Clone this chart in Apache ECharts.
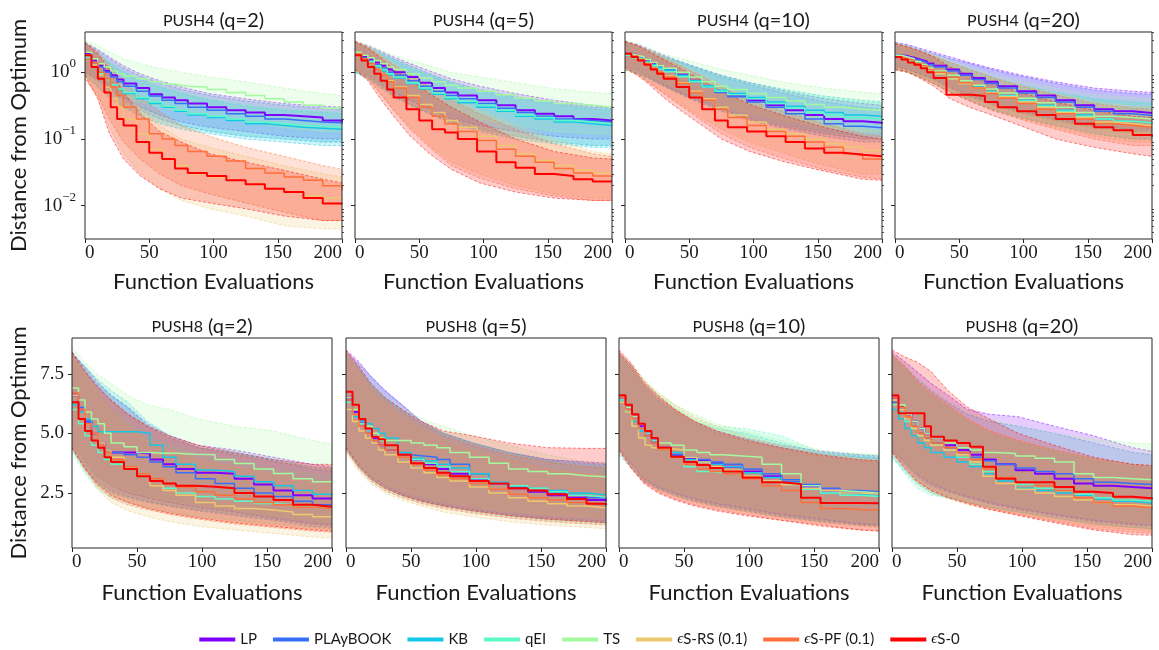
<!DOCTYPE html>
<html>
<head>
<meta charset="utf-8">
<script src="https://cdn.jsdelivr.net/npm/echarts@6/dist/echarts.min.js"></script>
<style>
  html, body { margin: 0; padding: 0; background: #fff; }
  #main { width: 1159px; height: 650px; }
</style>
</head>
<body>
<div id="main"></div>
<script>
// methods, in legend order
const methods = ['LP', 'PLAyBOOK', 'KB', 'qEI', 'TS', 'ϵS-RS (0.1)', 'ϵS-PF (0.1)', 'ϵS-0'];
const colors = ['#8000ff', '#376ff9', '#12c8e6', '#5bf9c7', '#a4f99f', '#edc86f', '#ff6f39', '#ff0000'];

// evaluations where the mean step curves are read (value holds until the next one)
const meanEvals = [0, 5, 10, 15, 20, 25, 30, 40, 50, 60, 70, 80, 95, 110, 125, 140, 155, 170, 185, 200];
// evaluations where the band edges are read
const bandEvals = [0, 10, 19, 30, 43, 58, 75, 97, 125, 155, 185, 200];

const xTicks = [0, 50, 100, 150, 200];
const logTicks = [0.01, 0.1, 1];
const logMinorTicks = [0.004, 0.005, 0.006, 0.007, 0.008, 0.009, 0.02, 0.03, 0.04, 0.05, 0.06, 0.07, 0.08, 0.09,
  0.2, 0.3, 0.4, 0.5, 0.6, 0.7, 0.8, 0.9, 2, 3, 4];
const linTicks = [2.5, 5.0, 7.5];

// ---- push4 (log scale) ----
const push4_q2_mean = [
  [1.9, 1.5, 1.25, 1.05, 0.9, 0.78, 0.68, 0.58, 0.47, 0.42, 0.38, 0.34, 0.3, 0.27, 0.25, 0.23, 0.22, 0.21, 0.19, 0.18],
  [1.8, 1.4, 1.2, 1.0, 0.85, 0.72, 0.62, 0.52, 0.44, 0.38, 0.34, 0.3, 0.27, 0.24, 0.22, 0.2, 0.19, 0.18, 0.175, 0.17],
  [1.8, 1.3, 1.0, 0.8, 0.65, 0.55, 0.48, 0.4, 0.34, 0.3, 0.26, 0.23, 0.21, 0.19, 0.17, 0.16, 0.15, 0.145, 0.14, 0.14],
  [1.7, 1.2, 0.95, 0.78, 0.65, 0.56, 0.5, 0.42, 0.36, 0.31, 0.27, 0.24, 0.22, 0.2, 0.18, 0.17, 0.16, 0.155, 0.15, 0.15],
  [2.0, 1.6, 1.35, 1.2, 1.05, 0.95, 0.88, 0.8, 0.72, 0.66, 0.62, 0.6, 0.55, 0.5, 0.45, 0.4, 0.36, 0.32, 0.29, 0.28],
  [1.8, 1.3, 0.9, 0.6, 0.4, 0.3, 0.2, 0.12, 0.07, 0.05, 0.04, 0.03, 0.027, 0.024, 0.021, 0.018, 0.016, 0.014, 0.013, 0.012],
  [1.8, 1.4, 1.0, 0.8, 0.6, 0.45, 0.3, 0.2, 0.12, 0.1, 0.08, 0.065, 0.055, 0.047, 0.036, 0.031, 0.027, 0.024, 0.02, 0.017],
  [1.8, 1.2, 0.8, 0.5, 0.3, 0.2, 0.16, 0.09, 0.062, 0.05, 0.036, 0.031, 0.028, 0.024, 0.021, 0.018, 0.016, 0.013, 0.0108, 0.0105]
];
const push4_q2_lo = [
  [1.0, 0.8, 0.6, 0.42, 0.3, 0.23, 0.18, 0.15, 0.13, 0.11, 0.1, 0.1],
  [1.0, 0.75, 0.55, 0.38, 0.27, 0.2, 0.16, 0.13, 0.11, 0.1, 0.09, 0.09],
  [0.9, 0.6, 0.42, 0.3, 0.22, 0.17, 0.14, 0.12, 0.1, 0.09, 0.08, 0.08],
  [0.9, 0.6, 0.45, 0.32, 0.24, 0.18, 0.15, 0.13, 0.11, 0.1, 0.09, 0.09],
  [1.0, 0.8, 0.6, 0.45, 0.36, 0.3, 0.26, 0.22, 0.18, 0.15, 0.13, 0.13],
  [0.8, 0.4, 0.15, 0.06, 0.03, 0.018, 0.012, 0.009, 0.007, 0.005, 0.0045, 0.0045],
  [0.8, 0.45, 0.2, 0.09, 0.05, 0.03, 0.02, 0.015, 0.011, 0.008, 0.006, 0.006],
  [0.9, 0.4, 0.12, 0.05, 0.028, 0.018, 0.013, 0.011, 0.009, 0.007, 0.006, 0.006]
];
const push4_q2_hi = [
  [2.8, 2.2, 1.7, 1.25, 0.95, 0.75, 0.6, 0.48, 0.4, 0.34, 0.31, 0.3],
  [2.8, 2.1, 1.6, 1.15, 0.88, 0.7, 0.55, 0.45, 0.37, 0.32, 0.29, 0.28],
  [2.7, 1.9, 1.4, 1.0, 0.78, 0.6, 0.48, 0.38, 0.31, 0.27, 0.25, 0.24],
  [2.7, 1.9, 1.4, 1.0, 0.78, 0.62, 0.5, 0.4, 0.33, 0.28, 0.26, 0.25],
  [3.0, 2.5, 2.0, 1.6, 1.35, 1.15, 1.0, 0.85, 0.72, 0.58, 0.48, 0.45],
  [2.8, 1.9, 1.1, 0.6, 0.3, 0.16, 0.1, 0.075, 0.055, 0.04, 0.03, 0.027],
  [2.8, 2.0, 1.3, 0.75, 0.42, 0.26, 0.16, 0.11, 0.075, 0.055, 0.04, 0.035],
  [2.8, 1.9, 1.1, 0.5, 0.24, 0.13, 0.09, 0.06, 0.045, 0.034, 0.025, 0.022]
];

const push4_q5_mean = [
  [1.9, 1.7, 1.55, 1.4, 1.25, 1.1, 1.0, 0.85, 0.7, 0.58, 0.5, 0.45, 0.38, 0.32, 0.27, 0.24, 0.22, 0.2, 0.19, 0.19],
  [1.8, 1.65, 1.5, 1.3, 1.15, 1.0, 0.9, 0.75, 0.62, 0.52, 0.45, 0.4, 0.34, 0.29, 0.25, 0.22, 0.2, 0.19, 0.18, 0.18],
  [1.8, 1.6, 1.4, 1.2, 1.05, 0.92, 0.82, 0.68, 0.56, 0.47, 0.4, 0.35, 0.3, 0.26, 0.22, 0.2, 0.18, 0.17, 0.16, 0.16],
  [1.8, 1.6, 1.45, 1.25, 1.1, 0.95, 0.85, 0.7, 0.58, 0.49, 0.42, 0.37, 0.32, 0.27, 0.23, 0.21, 0.19, 0.18, 0.17, 0.17],
  [2.0, 1.8, 1.65, 1.5, 1.35, 1.2, 1.1, 0.95, 0.82, 0.72, 0.64, 0.58, 0.52, 0.46, 0.41, 0.37, 0.34, 0.32, 0.3, 0.3],
  [1.9, 1.6, 1.35, 1.1, 0.9, 0.75, 0.6, 0.45, 0.33, 0.25, 0.19, 0.15, 0.11, 0.08, 0.06, 0.048, 0.04, 0.034, 0.031, 0.03],
  [1.9, 1.6, 1.35, 1.1, 0.9, 0.72, 0.58, 0.42, 0.3, 0.22, 0.17, 0.13, 0.095, 0.07, 0.055, 0.045, 0.036, 0.031, 0.028, 0.027],
  [1.8, 1.5, 1.2, 0.95, 0.75, 0.55, 0.42, 0.28, 0.19, 0.14, 0.125, 0.1, 0.065, 0.045, 0.037, 0.03, 0.028, 0.025, 0.023, 0.023]
];
const push4_q5_lo = [
  [1.1, 0.9, 0.7, 0.5, 0.38, 0.28, 0.2, 0.16, 0.13, 0.11, 0.1, 0.1],
  [1.0, 0.85, 0.65, 0.45, 0.33, 0.24, 0.18, 0.14, 0.11, 0.09, 0.08, 0.08],
  [1.0, 0.8, 0.6, 0.43, 0.32, 0.24, 0.17, 0.13, 0.1, 0.085, 0.075, 0.075],
  [1.0, 0.8, 0.62, 0.45, 0.33, 0.25, 0.18, 0.14, 0.11, 0.09, 0.08, 0.08],
  [1.1, 0.9, 0.72, 0.55, 0.42, 0.33, 0.26, 0.2, 0.16, 0.13, 0.12, 0.12],
  [1.1, 0.8, 0.5, 0.28, 0.15, 0.08, 0.045, 0.03, 0.02, 0.015, 0.013, 0.013],
  [1.1, 0.8, 0.5, 0.27, 0.14, 0.075, 0.04, 0.026, 0.018, 0.014, 0.012, 0.012],
  [1.1, 0.75, 0.42, 0.22, 0.11, 0.06, 0.035, 0.022, 0.016, 0.013, 0.012, 0.012]
];
const push4_q5_hi = [
  [2.9, 2.5, 2.1, 1.7, 1.35, 1.05, 0.8, 0.62, 0.48, 0.38, 0.32, 0.3],
  [2.8, 2.4, 2.0, 1.6, 1.25, 0.95, 0.72, 0.55, 0.43, 0.35, 0.3, 0.29],
  [2.8, 2.3, 1.9, 1.5, 1.15, 0.9, 0.68, 0.52, 0.41, 0.33, 0.28, 0.27],
  [2.8, 2.4, 2.0, 1.55, 1.2, 0.92, 0.7, 0.54, 0.42, 0.34, 0.29, 0.28],
  [3.0, 2.6, 2.2, 1.8, 1.5, 1.25, 1.0, 0.85, 0.7, 0.57, 0.5, 0.48],
  [2.9, 2.4, 1.9, 1.35, 0.95, 0.65, 0.42, 0.27, 0.16, 0.1, 0.065, 0.06],
  [2.9, 2.4, 1.8, 1.3, 0.9, 0.6, 0.38, 0.24, 0.14, 0.085, 0.06, 0.055],
  [2.9, 2.3, 1.7, 1.1, 0.75, 0.48, 0.3, 0.18, 0.1, 0.065, 0.052, 0.05]
];

const push4_q10_mean = [
  [1.9, 1.8, 1.65, 1.5, 1.35, 1.2, 1.1, 0.92, 0.75, 0.62, 0.52, 0.45, 0.38, 0.32, 0.27, 0.23, 0.2, 0.185, 0.175, 0.17],
  [1.8, 1.7, 1.6, 1.45, 1.3, 1.15, 1.05, 0.88, 0.72, 0.6, 0.5, 0.43, 0.36, 0.3, 0.24, 0.2, 0.17, 0.155, 0.148, 0.145],
  [1.8, 1.7, 1.6, 1.45, 1.3, 1.18, 1.08, 0.9, 0.75, 0.63, 0.54, 0.48, 0.42, 0.36, 0.31, 0.27, 0.25, 0.23, 0.22, 0.22],
  [1.8, 1.65, 1.55, 1.4, 1.25, 1.12, 1.02, 0.86, 0.72, 0.6, 0.52, 0.46, 0.4, 0.34, 0.29, 0.25, 0.23, 0.21, 0.2, 0.2],
  [1.9, 1.8, 1.7, 1.55, 1.4, 1.25, 1.15, 1.0, 0.85, 0.72, 0.62, 0.55, 0.48, 0.42, 0.37, 0.33, 0.3, 0.28, 0.27, 0.27],
  [1.9, 1.75, 1.55, 1.35, 1.15, 1.0, 0.88, 0.7, 0.52, 0.4, 0.3, 0.23, 0.18, 0.14, 0.12, 0.1, 0.085, 0.075, 0.067, 0.065],
  [1.9, 1.75, 1.55, 1.35, 1.15, 1.0, 0.85, 0.68, 0.5, 0.38, 0.28, 0.21, 0.16, 0.13, 0.11, 0.09, 0.075, 0.06, 0.05, 0.048],
  [1.9, 1.7, 1.5, 1.3, 1.1, 0.95, 0.8, 0.6, 0.42, 0.28, 0.19, 0.15, 0.13, 0.11, 0.09, 0.072, 0.062, 0.058, 0.055, 0.054]
];
const push4_q10_lo = [
  [1.2, 1.05, 0.85, 0.65, 0.5, 0.38, 0.28, 0.2, 0.15, 0.12, 0.1, 0.1],
  [1.1, 0.95, 0.8, 0.62, 0.47, 0.35, 0.26, 0.19, 0.14, 0.11, 0.09, 0.09],
  [1.1, 0.95, 0.8, 0.63, 0.48, 0.37, 0.28, 0.21, 0.16, 0.13, 0.11, 0.11],
  [1.1, 0.95, 0.8, 0.62, 0.47, 0.36, 0.27, 0.2, 0.15, 0.12, 0.1, 0.1],
  [1.2, 1.05, 0.88, 0.7, 0.54, 0.42, 0.32, 0.25, 0.19, 0.15, 0.13, 0.13],
  [1.1, 0.9, 0.7, 0.5, 0.33, 0.22, 0.14, 0.09, 0.06, 0.04, 0.03, 0.03],
  [1.1, 0.9, 0.7, 0.48, 0.32, 0.2, 0.12, 0.075, 0.05, 0.035, 0.027, 0.025],
  [1.2, 0.9, 0.65, 0.42, 0.27, 0.17, 0.1, 0.065, 0.045, 0.033, 0.025, 0.024]
];
const push4_q10_hi = [
  [2.9, 2.6, 2.2, 1.8, 1.45, 1.15, 0.9, 0.7, 0.52, 0.4, 0.34, 0.32],
  [2.9, 2.5, 2.1, 1.7, 1.4, 1.1, 0.85, 0.65, 0.48, 0.36, 0.3, 0.28],
  [2.8, 2.5, 2.1, 1.75, 1.45, 1.15, 0.9, 0.7, 0.55, 0.44, 0.38, 0.36],
  [2.8, 2.5, 2.1, 1.7, 1.4, 1.1, 0.88, 0.68, 0.52, 0.42, 0.36, 0.35],
  [3.0, 2.7, 2.3, 1.9, 1.6, 1.35, 1.1, 0.9, 0.7, 0.58, 0.5, 0.48],
  [2.9, 2.5, 2.1, 1.7, 1.3, 0.95, 0.65, 0.42, 0.28, 0.19, 0.14, 0.13],
  [2.9, 2.5, 2.1, 1.65, 1.25, 0.9, 0.6, 0.38, 0.25, 0.17, 0.12, 0.11],
  [2.9, 2.5, 2.0, 1.55, 1.15, 0.8, 0.52, 0.33, 0.22, 0.15, 0.11, 0.1]
];

const push4_q20_mean = [
  [1.8, 1.75, 1.65, 1.55, 1.45, 1.35, 1.25, 1.1, 0.95, 0.82, 0.72, 0.62, 0.52, 0.45, 0.38, 0.32, 0.28, 0.26, 0.245, 0.24],
  [1.8, 1.7, 1.6, 1.5, 1.4, 1.3, 1.2, 1.05, 0.9, 0.78, 0.68, 0.58, 0.49, 0.42, 0.36, 0.3, 0.26, 0.24, 0.225, 0.22],
  [1.7, 1.6, 1.5, 1.4, 1.25, 1.1, 1.0, 0.85, 0.7, 0.6, 0.52, 0.45, 0.38, 0.32, 0.27, 0.23, 0.2, 0.185, 0.175, 0.17],
  [1.7, 1.6, 1.45, 1.35, 1.2, 1.05, 0.95, 0.8, 0.68, 0.58, 0.5, 0.44, 0.37, 0.31, 0.26, 0.22, 0.2, 0.185, 0.175, 0.17],
  [1.8, 1.7, 1.6, 1.45, 1.3, 1.15, 1.05, 0.9, 0.75, 0.64, 0.56, 0.49, 0.41, 0.35, 0.3, 0.25, 0.22, 0.21, 0.2, 0.2],
  [1.7, 1.6, 1.5, 1.35, 1.2, 1.05, 0.95, 0.8, 0.68, 0.58, 0.5, 0.43, 0.36, 0.3, 0.25, 0.21, 0.18, 0.17, 0.16, 0.16],
  [1.7, 1.6, 1.5, 1.35, 1.25, 1.1, 1.0, 0.85, 0.7, 0.58, 0.48, 0.41, 0.34, 0.28, 0.24, 0.2, 0.17, 0.16, 0.15, 0.15],
  [1.7, 1.55, 1.4, 1.3, 1.15, 1.0, 0.82, 0.46, 0.46, 0.44, 0.36, 0.3, 0.26, 0.23, 0.2, 0.17, 0.15, 0.135, 0.115, 0.108]
];
const push4_q20_lo = [
  [1.2, 1.1, 0.95, 0.8, 0.6, 0.45, 0.35, 0.27, 0.2, 0.16, 0.14, 0.14],
  [1.2, 1.1, 0.95, 0.78, 0.58, 0.43, 0.33, 0.25, 0.19, 0.15, 0.13, 0.13],
  [1.1, 1.0, 0.85, 0.68, 0.5, 0.38, 0.28, 0.21, 0.16, 0.12, 0.1, 0.1],
  [1.1, 1.0, 0.85, 0.68, 0.5, 0.38, 0.28, 0.21, 0.16, 0.12, 0.1, 0.1],
  [1.2, 1.05, 0.9, 0.72, 0.55, 0.42, 0.32, 0.24, 0.18, 0.14, 0.12, 0.12],
  [1.1, 1.0, 0.85, 0.68, 0.5, 0.38, 0.28, 0.21, 0.15, 0.11, 0.09, 0.09],
  [1.1, 1.0, 0.85, 0.68, 0.5, 0.37, 0.27, 0.2, 0.14, 0.1, 0.08, 0.08],
  [1.1, 1.0, 0.82, 0.62, 0.4, 0.3, 0.23, 0.16, 0.1, 0.075, 0.06, 0.055]
];
const push4_q20_hi = [
  [2.8, 2.6, 2.3, 2.0, 1.7, 1.4, 1.15, 0.92, 0.72, 0.58, 0.52, 0.5],
  [2.8, 2.5, 2.2, 1.9, 1.6, 1.35, 1.1, 0.88, 0.68, 0.54, 0.48, 0.47],
  [2.7, 2.4, 2.1, 1.75, 1.4, 1.1, 0.85, 0.65, 0.5, 0.4, 0.36, 0.35],
  [2.7, 2.4, 2.1, 1.75, 1.4, 1.1, 0.85, 0.65, 0.5, 0.4, 0.36, 0.35],
  [2.8, 2.5, 2.2, 1.85, 1.5, 1.2, 0.95, 0.75, 0.58, 0.46, 0.42, 0.41],
  [2.7, 2.4, 2.1, 1.75, 1.4, 1.1, 0.85, 0.65, 0.48, 0.36, 0.31, 0.3],
  [2.7, 2.4, 2.1, 1.75, 1.4, 1.1, 0.84, 0.63, 0.46, 0.34, 0.29, 0.28],
  [2.7, 2.4, 2.1, 1.7, 1.2, 0.9, 0.7, 0.5, 0.36, 0.27, 0.22, 0.21]
];

// ---- push8 (linear scale) ----
const push8_q2_mean = [
  [6.6, 6.0, 5.5, 5.0, 4.6, 4.3, 4.2, 4.2, 4.15, 3.9, 3.7, 3.5, 3.35, 3.3, 3.1, 2.85, 2.6, 2.4, 2.27, 2.27],
  [6.7, 6.1, 5.5, 5.0, 4.6, 4.3, 4.2, 4.1, 4.0, 3.8, 3.6, 3.35, 3.1, 2.9, 2.7, 2.5, 2.35, 2.15, 2.0, 2.0],
  [6.2, 5.9, 5.6, 5.3, 5.07, 5.07, 5.07, 5.07, 5.0, 4.5, 4.0, 3.7, 3.46, 3.4, 3.2, 2.97, 2.8, 2.6, 2.45, 2.4],
  [6.0, 5.4, 4.9, 4.5, 4.2, 3.9, 3.7, 3.55, 3.3, 3.0, 2.7, 2.5, 2.35, 2.25, 2.15, 2.06, 2.0, 1.9, 1.85, 1.85],
  [6.9, 6.4, 5.9, 5.6, 5.4, 5.0, 4.6, 4.44, 4.2, 4.16, 4.16, 4.12, 4.1, 3.9, 3.74, 3.5, 3.32, 3.1, 2.97, 2.97],
  [6.6, 6.0, 5.4, 5.0, 4.6, 4.3, 4.0, 3.6, 3.2, 2.8, 2.6, 2.4, 2.1, 1.95, 1.85, 1.78, 1.7, 1.6, 1.5, 1.5],
  [6.7, 6.0, 5.4, 5.0, 4.5, 4.2, 3.9, 3.6, 3.3, 3.1, 2.9, 2.75, 2.55, 2.4, 2.25, 2.1, 2.0, 1.9, 1.85, 1.85],
  [6.3, 5.6, 5.1, 4.7, 4.4, 4.0, 3.8, 3.5, 3.2, 3.0, 2.9, 2.8, 2.76, 2.7, 2.5, 2.35, 2.2, 2.0, 1.92, 1.9]
];
const push8_q2_lo = [
  [4.5, 3.8, 3.2, 2.8, 2.5, 2.3, 2.1, 1.9, 1.7, 1.45, 1.2, 1.15],
  [4.4, 3.6, 3.0, 2.6, 2.35, 2.15, 1.95, 1.75, 1.55, 1.35, 1.1, 1.05],
  [4.3, 3.5, 2.9, 2.5, 2.3, 2.1, 1.95, 1.8, 1.6, 1.4, 1.2, 1.15],
  [4.2, 3.3, 2.7, 2.3, 2.1, 1.9, 1.7, 1.5, 1.35, 1.2, 1.05, 1.0],
  [4.5, 3.8, 3.2, 2.8, 2.55, 2.35, 2.15, 1.95, 1.75, 1.55, 1.35, 1.3],
  [4.3, 3.4, 2.7, 2.1, 1.75, 1.5, 1.3, 1.1, 0.95, 0.8, 0.65, 0.6],
  [4.4, 3.5, 2.8, 2.3, 2.0, 1.8, 1.6, 1.4, 1.2, 1.05, 0.9, 0.85],
  [4.4, 3.5, 2.9, 2.4, 2.1, 1.85, 1.65, 1.45, 1.25, 1.1, 0.95, 0.9]
];
const push8_q2_hi = [
  [8.4, 7.8, 7.2, 6.6, 6.1, 5.4, 4.9, 4.5, 4.3, 4.0, 3.7, 3.6],
  [8.4, 7.7, 7.1, 6.6, 6.1, 5.3, 4.8, 4.4, 4.15, 3.85, 3.5, 3.4],
  [8.3, 7.8, 7.3, 6.8, 6.3, 5.5, 4.9, 4.4, 4.2, 3.9, 3.6, 3.5],
  [8.2, 7.5, 6.8, 6.0, 5.5, 4.9, 4.5, 4.1, 3.8, 3.5, 3.3, 3.2],
  [8.6, 8.0, 7.5, 7.1, 6.6, 6.2, 6.0, 5.6, 5.3, 5.1, 4.7, 4.55],
  [8.3, 7.5, 6.8, 6.0, 5.3, 4.7, 4.3, 3.9, 3.6, 3.3, 3.0, 2.9],
  [8.4, 7.6, 7.0, 6.4, 5.8, 5.3, 4.8, 4.4, 4.1, 3.8, 3.6, 3.55],
  [8.4, 7.6, 7.0, 6.4, 5.8, 5.3, 4.9, 4.5, 4.2, 3.9, 3.7, 3.7]
];

const push8_q5_mean = [
  [6.5, 5.9, 5.5, 5.1, 4.8, 4.5, 4.3, 4.1, 3.9, 3.7, 3.5, 3.3, 3.05, 2.9, 2.7, 2.55, 2.4, 2.3, 2.2, 2.15],
  [6.4, 5.8, 5.3, 5.0, 4.7, 4.5, 4.3, 4.1, 4.05, 4.0, 3.9, 3.7, 3.3, 2.9, 2.75, 2.6, 2.5, 2.4, 2.3, 2.26],
  [6.3, 5.7, 5.5, 5.4, 5.2, 5.0, 4.8, 4.2, 3.95, 3.85, 3.7, 3.55, 3.3, 2.95, 2.8, 2.7, 2.6, 2.5, 2.42, 2.4],
  [6.3, 5.8, 5.4, 5.1, 4.9, 4.7, 4.5, 4.1, 3.9, 3.75, 3.6, 3.4, 3.1, 2.9, 2.8, 2.7, 2.55, 2.4, 2.32, 2.3],
  [6.5, 6.0, 5.6, 5.3, 5.0, 4.8, 4.7, 4.7, 4.6, 4.5, 4.4, 4.2, 4.0, 3.75, 3.5, 3.4, 3.3, 3.22, 3.18, 3.18],
  [6.0, 5.5, 5.1, 4.8, 4.6, 4.3, 4.1, 3.8, 3.55, 3.35, 3.15, 3.0, 2.75, 2.5, 2.3, 2.15, 2.05, 1.95, 1.87, 1.85],
  [6.4, 5.8, 5.3, 5.0, 4.7, 4.5, 4.3, 4.0, 3.7, 3.45, 3.25, 3.1, 2.9, 2.65, 2.45, 2.3, 2.2, 2.1, 2.02, 2.0],
  [6.75, 6.2, 5.6, 5.2, 4.86, 4.75, 4.5, 4.1, 3.75, 3.55, 3.35, 3.2, 3.0, 2.9, 2.7, 2.6, 2.45, 2.25, 2.05, 1.98]
];
const push8_q5_lo = [
  [4.4, 3.7, 3.2, 2.8, 2.45, 2.2, 2.0, 1.8, 1.6, 1.45, 1.35, 1.3],
  [4.3, 3.6, 3.1, 2.7, 2.4, 2.15, 1.95, 1.75, 1.55, 1.4, 1.3, 1.25],
  [4.4, 3.6, 3.1, 2.75, 2.45, 2.2, 2.0, 1.8, 1.6, 1.45, 1.35, 1.3],
  [4.3, 3.5, 3.0, 2.6, 2.35, 2.1, 1.9, 1.7, 1.5, 1.35, 1.25, 1.2],
  [4.5, 3.8, 3.3, 2.9, 2.6, 2.35, 2.15, 1.95, 1.75, 1.6, 1.5, 1.45],
  [4.2, 3.4, 2.9, 2.5, 2.2, 1.95, 1.7, 1.5, 1.3, 1.15, 1.05, 1.0],
  [4.3, 3.5, 3.0, 2.6, 2.3, 2.05, 1.85, 1.65, 1.45, 1.3, 1.2, 1.15],
  [4.4, 3.6, 3.1, 2.7, 2.4, 2.15, 1.95, 1.75, 1.55, 1.4, 1.3, 1.25]
];
const push8_q5_hi = [
  [8.5, 8.0, 7.4, 6.8, 6.2, 5.5, 5.0, 4.6, 4.2, 3.9, 3.8, 3.75],
  [8.4, 7.9, 7.4, 6.8, 6.2, 5.5, 5.0, 4.6, 4.2, 3.9, 3.75, 3.7],
  [8.3, 7.7, 7.1, 6.5, 6.0, 5.4, 5.0, 4.6, 4.2, 3.85, 3.7, 3.65],
  [8.3, 7.6, 7.0, 6.4, 5.9, 5.4, 5.0, 4.6, 4.2, 3.8, 3.6, 3.55],
  [8.4, 7.8, 7.2, 6.6, 6.1, 5.6, 5.3, 4.9, 4.5, 4.1, 3.8, 3.75],
  [8.2, 7.5, 6.8, 6.2, 5.7, 5.2, 4.7, 4.3, 3.9, 3.5, 3.3, 3.25],
  [8.4, 7.7, 7.0, 6.4, 5.9, 5.4, 4.9, 4.5, 4.1, 3.8, 3.6, 3.55],
  [8.5, 7.8, 7.1, 6.5, 6.0, 5.5, 5.1, 4.9, 4.6, 4.4, 4.37, 4.37]
];

const push8_q10_mean = [
  [6.5, 6.1, 5.7, 5.3, 5.0, 4.7, 4.4, 4.1, 3.95, 3.85, 3.75, 3.6, 3.4, 3.2, 2.95, 2.75, 2.6, 2.5, 2.45, 2.45],
  [6.4, 6.0, 5.6, 5.2, 4.9, 4.6, 4.3, 4.1, 4.0, 3.9, 3.8, 3.7, 3.5, 3.3, 3.05, 2.85, 2.7, 2.6, 2.55, 2.55],
  [6.3, 5.9, 5.5, 5.1, 4.9, 4.7, 4.4, 4.2, 3.9, 3.8, 3.7, 3.6, 3.35, 3.15, 2.95, 2.7, 2.5, 2.45, 2.4, 2.4],
  [6.4, 6.0, 5.6, 5.2, 5.0, 4.7, 4.3, 4.0, 3.6, 3.4, 3.35, 3.3, 3.2, 3.0, 2.85, 2.65, 2.5, 2.4, 2.35, 2.35],
  [6.5, 6.1, 5.7, 5.4, 5.1, 4.8, 4.6, 4.5, 4.3, 4.2, 4.1, 4.05, 4.0, 3.7, 3.3, 2.8, 2.6, 2.55, 2.5, 2.5],
  [6.3, 5.9, 5.3, 4.8, 4.5, 4.4, 4.35, 4.3, 4.0, 3.8, 3.6, 3.45, 3.2, 3.0, 2.85, 2.7, 2.6, 2.5, 2.45, 2.45],
  [6.5, 6.0, 5.6, 5.2, 4.9, 4.6, 4.3, 4.0, 3.7, 3.5, 3.4, 3.3, 3.1, 2.8, 2.6, 2.1, 1.85, 1.8, 1.78, 1.78],
  [6.6, 6.2, 5.8, 5.4, 5.1, 4.8, 4.4, 4.02, 3.8, 3.67, 3.55, 3.4, 3.15, 2.95, 2.88, 2.3, 2.08, 2.08, 2.07, 2.06]
];
const push8_q10_lo = [
  [4.4, 3.7, 3.1, 2.75, 2.5, 2.25, 2.05, 1.85, 1.6, 1.4, 1.2, 1.15],
  [4.3, 3.6, 3.0, 2.65, 2.4, 2.15, 1.95, 1.75, 1.5, 1.3, 1.15, 1.1],
  [4.1, 3.5, 3.0, 2.7, 2.45, 2.2, 2.0, 1.8, 1.55, 1.35, 1.2, 1.15],
  [4.3, 3.6, 3.05, 2.7, 2.4, 2.15, 1.95, 1.75, 1.5, 1.3, 1.15, 1.1],
  [4.4, 3.8, 3.2, 2.85, 2.6, 2.35, 2.15, 1.95, 1.7, 1.5, 1.3, 1.25],
  [4.2, 3.5, 3.0, 2.6, 2.35, 2.1, 1.9, 1.7, 1.45, 1.25, 1.1, 1.05],
  [4.3, 3.5, 2.95, 2.55, 2.25, 2.0, 1.8, 1.6, 1.35, 1.1, 0.95, 0.9],
  [4.3, 3.5, 2.9, 2.5, 2.2, 1.95, 1.75, 1.55, 1.35, 1.15, 0.95, 0.9]
];
const push8_q10_hi = [
  [8.4, 7.8, 7.1, 6.5, 6.0, 5.5, 5.1, 4.8, 4.5, 4.25, 4.1, 4.05],
  [8.3, 7.7, 7.0, 6.4, 5.9, 5.4, 5.0, 4.7, 4.4, 4.15, 4.0, 3.95],
  [8.3, 7.7, 7.0, 6.4, 5.9, 5.5, 5.2, 5.0, 4.6, 4.2, 4.05, 4.0],
  [8.3, 7.8, 7.1, 6.6, 6.1, 5.6, 5.3, 5.2, 4.9, 4.2, 4.1, 4.1],
  [8.4, 7.9, 7.3, 6.7, 6.2, 5.8, 5.4, 5.1, 4.7, 4.3, 4.15, 4.1],
  [8.3, 7.8, 7.2, 6.7, 6.2, 5.7, 5.3, 4.9, 4.5, 4.15, 3.95, 3.9],
  [8.4, 7.8, 7.1, 6.5, 6.0, 5.5, 5.05, 4.7, 4.35, 4.05, 3.85, 3.8],
  [8.5, 7.9, 7.2, 6.6, 6.0, 5.5, 5.1, 4.75, 4.4, 4.1, 3.9, 3.85]
];

const push8_q20_mean = [
  [6.5, 6.1, 5.8, 5.5, 5.2, 5.0, 4.8, 4.5, 4.3, 4.1, 3.9, 3.7, 3.45, 3.3, 3.1, 2.9, 2.8, 2.75, 2.7, 2.69],
  [6.3, 5.9, 5.6, 5.3, 5.0, 4.8, 4.6, 4.4, 4.2, 4.0, 3.85, 3.7, 3.55, 3.4, 3.3, 3.1, 2.95, 2.9, 2.85, 2.83],
  [6.0, 5.6, 5.2, 4.9, 4.6, 4.4, 4.2, 4.0, 3.8, 3.6, 3.3, 3.0, 2.7, 2.6, 2.5, 2.4, 2.25, 2.15, 2.08, 2.06],
  [6.2, 5.9, 5.5, 5.2, 4.9, 4.7, 4.5, 4.3, 4.0, 3.7, 3.4, 3.1, 2.85, 2.7, 2.6, 2.45, 2.3, 2.2, 2.15, 2.13],
  [6.6, 6.2, 5.8, 5.5, 5.2, 5.0, 4.8, 4.6, 4.4, 4.3, 4.2, 4.15, 4.05, 3.95, 3.8, 3.3, 3.15, 3.1, 3.05, 3.04],
  [6.4, 6.0, 5.6, 5.2, 4.9, 4.7, 4.5, 4.3, 4.1, 3.8, 3.2, 2.9, 2.65, 2.5, 2.35, 2.2, 2.1, 2.0, 1.95, 1.92],
  [6.5, 6.1, 5.7, 5.3, 5.0, 4.8, 4.6, 4.4, 4.2, 3.9, 3.5, 3.15, 2.95, 2.8, 2.6, 2.3, 2.1, 1.95, 1.88, 1.85],
  [6.6, 5.84, 5.84, 5.84, 5.84, 5.3, 4.86, 4.7, 4.6, 4.44, 3.6, 3.1, 2.95, 2.95, 2.75, 2.55, 2.5, 2.34, 2.28, 2.24]
];
const push8_q20_lo = [
  [4.3, 3.8, 3.3, 2.9, 2.6, 2.35, 2.1, 1.85, 1.6, 1.35, 1.2, 1.15],
  [4.2, 3.7, 3.2, 2.8, 2.55, 2.3, 2.05, 1.8, 1.55, 1.3, 1.15, 1.1],
  [4.0, 3.4, 2.9, 2.5, 2.3, 2.1, 1.9, 1.7, 1.45, 1.2, 1.05, 1.0],
  [4.0, 3.3, 2.7, 2.4, 2.3, 2.1, 1.9, 1.7, 1.45, 1.2, 1.05, 1.0],
  [4.4, 3.9, 3.4, 3.0, 2.7, 2.45, 2.2, 1.95, 1.7, 1.45, 1.3, 1.25],
  [4.1, 3.5, 2.9, 2.5, 2.25, 2.0, 1.8, 1.6, 1.35, 1.1, 0.95, 0.9],
  [4.2, 3.6, 3.0, 2.6, 2.35, 2.1, 1.85, 1.6, 1.3, 1.0, 0.85, 0.8],
  [4.2, 3.5, 3.0, 2.6, 2.3, 2.05, 1.8, 1.55, 1.25, 0.95, 0.75, 0.72]
];
const push8_q20_hi = [
  [8.4, 8.0, 7.6, 7.1, 6.6, 6.0, 5.8, 5.7, 5.3, 4.9, 4.4, 4.25],
  [8.3, 7.8, 7.3, 6.8, 6.3, 5.8, 5.5, 5.3, 5.0, 4.6, 4.2, 4.1],
  [8.2, 7.7, 7.1, 6.6, 6.1, 5.5, 5.0, 4.6, 4.2, 3.85, 3.6, 3.55],
  [8.2, 7.7, 7.1, 6.6, 6.1, 5.5, 5.0, 4.65, 4.3, 3.95, 3.7, 3.65],
  [8.4, 7.9, 7.4, 6.9, 6.4, 5.9, 5.6, 5.3, 5.0, 4.75, 4.6, 4.55],
  [8.3, 7.8, 7.2, 6.7, 6.2, 5.6, 5.1, 4.7, 4.3, 3.9, 3.6, 3.55],
  [8.3, 7.8, 7.2, 6.7, 6.2, 5.6, 5.1, 4.7, 4.3, 3.95, 3.7, 3.65],
  [8.5, 8.2, 8.0, 7.6, 6.8, 6.1, 5.6, 5.0, 4.5, 4.0, 3.7, 3.65]
];

const panels = [
  { env: 'PUSH4', q: 2, mean: push4_q2_mean, lo: push4_q2_lo, hi: push4_q2_hi },
  { env: 'PUSH4', q: 5, mean: push4_q5_mean, lo: push4_q5_lo, hi: push4_q5_hi },
  { env: 'PUSH4', q: 10, mean: push4_q10_mean, lo: push4_q10_lo, hi: push4_q10_hi },
  { env: 'PUSH4', q: 20, mean: push4_q20_mean, lo: push4_q20_lo, hi: push4_q20_hi },
  { env: 'PUSH8', q: 2, mean: push8_q2_mean, lo: push8_q2_lo, hi: push8_q2_hi },
  { env: 'PUSH8', q: 5, mean: push8_q5_mean, lo: push8_q5_lo, hi: push8_q5_hi },
  { env: 'PUSH8', q: 10, mean: push8_q10_mean, lo: push8_q10_lo, hi: push8_q10_hi },
  { env: 'PUSH8', q: 20, mean: push8_q20_mean, lo: push8_q20_lo, hi: push8_q20_hi }
];

// plot boxes, in pixels
const boxes = [
  { left: 85, top: 32, width: 257, height: 207 },
  { left: 355, top: 32, width: 257, height: 207 },
  { left: 625, top: 32, width: 257, height: 207 },
  { left: 895, top: 32, width: 257, height: 207 },
  { left: 72, top: 338, width: 260, height: 210 },
  { left: 346, top: 338, width: 260, height: 210 },
  { left: 619, top: 338, width: 260, height: 210 },
  { left: 892, top: 338, width: 260, height: 210 }
];

const SANS = 'Lato, "Open Sans", sans-serif';
const SERIF = '"Liberation Serif", "DejaVu Serif", serif';
const INK = '#1a1a1a';
const SPINE = '#262626';

function rgba(hex, a) {
  const n = parseInt(hex.slice(1), 16);
  return 'rgba(' + (n >> 16) + ',' + ((n >> 8) & 255) + ',' + (n & 255) + ',' + a + ')';
}

// shaded band between lo and hi, placed through the axes
function bandRenderer(lo, hi, color) {
  return function (params, api) {
    const up = bandEvals.map((x, k) => api.coord([x, hi[k]]));
    const dn = bandEvals.map((x, k) => api.coord([x, lo[k]]));
    const edge = { stroke: rgba(color, 0.5), lineWidth: 1, lineDash: [3, 2], fill: null };
    return {
      type: 'group',
      children: [
        { type: 'polygon', shape: { points: up.concat(dn.slice().reverse()) }, style: { fill: rgba(color, 0.2) } },
        { type: 'polyline', shape: { points: up }, style: edge },
        { type: 'polyline', shape: { points: dn }, style: edge }
      ]
    };
  };
}

const grid = [], xAxis = [], yAxis = [], series = [], graphic = [];

panels.forEach((p, i) => {
  const box = boxes[i];
  const isLog = i < 4;
  const firstCol = i % 4 === 0;

  grid.push({
    left: box.left, top: box.top, width: box.width, height: box.height,
    show: true, borderColor: SPINE, borderWidth: 1, backgroundColor: 'transparent', z: 10
  });

  xAxis.push({
    gridIndex: i, type: 'value', min: 0, max: 200, interval: 50,
    axisLine: { show: false },
    splitLine: { show: false },
    axisTick: { show: true, length: 4, customValues: xTicks, lineStyle: { color: SPINE, width: 1 } },
    axisLabel: {
      fontSize: 19, fontFamily: SERIF, color: INK, margin: 5, customValues: xTicks,
      alignMinLabel: 'left', alignMaxLabel: 'right'
    },
    name: 'Function Evaluations', nameLocation: 'middle', nameGap: isLog ? 32 : 34,
    nameTextStyle: { fontSize: 22, fontFamily: SANS, color: INK }
  });

  const yName = firstCol ? {
    name: 'Distance from Optimum', nameLocation: 'middle', nameGap: isLog ? 55 : 42,
    nameTextStyle: { fontSize: 22, fontFamily: SANS, color: INK }
  } : {};

  let yi;
  if (isLog) {
    yi = yAxis.length;
    yAxis.push(Object.assign({
      gridIndex: i, type: 'log', logBase: 10, min: 0.00317, max: 4.02,
      axisLine: { show: false }, splitLine: { show: false },
      axisTick: { show: true, length: 4, customValues: logTicks, lineStyle: { color: SPINE, width: 1 } },
      axisLabel: {
        show: firstCol, customValues: logTicks, margin: 9,
        formatter: v => {
          const e = Math.round(Math.log10(v));
          return '{b|10}{s|' + (e < 0 ? '\u2212' + (-e) : e) + '}';
        },
        rich: {
          b: { fontSize: 19, fontFamily: SERIF, color: INK },
          s: { fontSize: 13, fontFamily: SERIF, color: INK, verticalAlign: 'top', lineHeight: 30 }
        }
      }
    }, yName));
    // minor ticks
    yAxis.push({
      gridIndex: i, type: 'log', logBase: 10, min: 0.00317, max: 4.02,
      axisLine: { show: false }, splitLine: { show: false },
      axisTick: { show: true, length: 2, customValues: logMinorTicks, lineStyle: { color: SPINE, width: 0.8 } },
      axisLabel: { show: false }
    });
  } else {
    yi = yAxis.length;
    yAxis.push(Object.assign({
      gridIndex: i, type: 'value', min: 0.19, max: 9.0,
      axisLine: { show: false }, splitLine: { show: false },
      axisTick: { show: true, length: 4, customValues: linTicks, lineStyle: { color: SPINE, width: 1 } },
      axisLabel: {
        show: firstCol, customValues: linTicks, margin: 8,
        fontSize: 19, fontFamily: SERIF, color: INK,
        formatter: v => v.toFixed(1)
      }
    }, yName));
  }

  methods.forEach((name, m) => {
    const c = colors[m];
    series.push({
      type: 'custom', xAxisIndex: i, yAxisIndex: yi, silent: true, clip: true,
      data: [[0, 1]],
      renderItem: bandRenderer(p.lo[m], p.hi[m], c)
    });
    series.push({
      name: name, type: 'line', xAxisIndex: i, yAxisIndex: yi, step: 'end',
      symbol: 'none', silent: true, emphasis: { disabled: true },
      color: c,
      data: meanEvals.map((x, k) => [x, p.mean[m][k]]),
      lineStyle: { color: c, width: (m === 0 || m === 7) ? 2 : 1.5 }
    });
  });

  graphic.push({
    type: 'text',
    x: box.left + box.width / 2,
    y: box.top - 11,
    style: {
      text: '{sc|' + p.env + '} (q=' + p.q + ')',
      align: 'center', verticalAlign: 'middle',
      fontSize: 20, fontFamily: SANS, fill: INK,
      rich: { sc: { fontSize: 16, fontFamily: SANS, fill: INK } }
    }
  });
});

const chart = echarts.init(document.getElementById('main'));
chart.setOption({
  animation: false,
  backgroundColor: '#fff',
  grid: grid,
  xAxis: xAxis,
  yAxis: yAxis,
  graphic: graphic,
  legend: {
    data: methods,
    top: 627, left: 'center',
    icon: 'rect', itemWidth: 36, itemHeight: 4, itemGap: 16,
    selectedMode: false,
    formatter: n => n.charAt(0) === 'ϵ' ? '{e|ϵ}' + n.slice(1) : n,
    textStyle: {
      fontSize: 15, fontFamily: SANS, color: INK,
      rich: { e: { fontSize: 15, fontFamily: SERIF, fontStyle: 'italic', color: INK } }
    }
  },
  series: series
});
</script>
</body>
</html>
